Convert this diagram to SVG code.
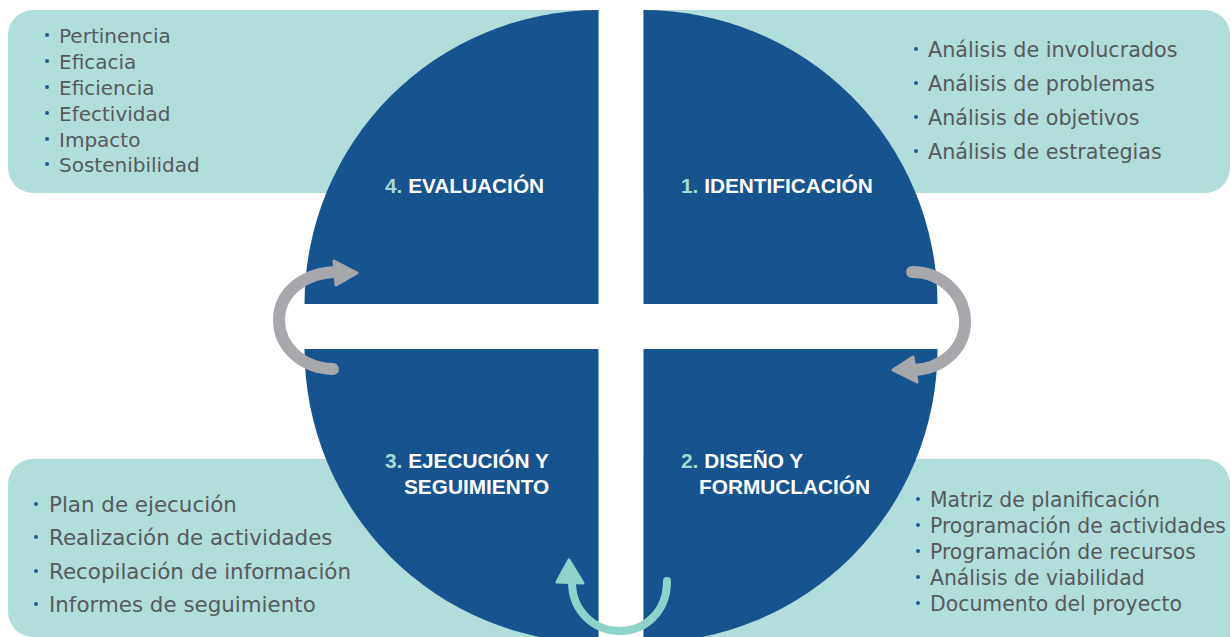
<svg xmlns="http://www.w3.org/2000/svg" width="1231" height="637" viewBox="0 0 1231 637">
<style>
.box{fill:#b1dedb}
.quad{fill:#15548f}
.item{font-family:"DejaVu Sans",sans-serif;fill:#58595b}
.dot{fill:#1c5a96}
.head{font-family:"Liberation Sans",Arial,sans-serif;font-weight:bold;font-size:20.8px;fill:#ffffff}
.num{fill:#a6dbd5}
.garc{fill:none;stroke:#a7a8ac;stroke-width:12;stroke-linecap:round}
.ghead{fill:#a7a8ac;stroke:#a7a8ac;stroke-width:3;stroke-linejoin:round}
.tarc{fill:none;stroke:#8ed3ca;stroke-width:8;stroke-linecap:round}
.thead{fill:#8ed3ca;stroke:#8ed3ca;stroke-width:3;stroke-linejoin:round}
</style>
<rect width="1231" height="637" fill="#ffffff"/>
<g id="list-evaluacion">
<path class="box" d="M598.5,10 L33,10 A25,25 0 0 0 8,35 L8,168 A25,25 0 0 0 33,193 L598.5,193 Z"/>
<g class="item" font-size="20">
<circle class="dot" cx="47" cy="35" r="2"/><text x="59" y="43">Pertinencia</text>
<circle class="dot" cx="47" cy="61" r="2"/><text x="59" y="69">Eficacia</text>
<circle class="dot" cx="47" cy="87" r="2"/><text x="59" y="95">Eficiencia</text>
<circle class="dot" cx="47" cy="113" r="2"/><text x="59" y="121">Efectividad</text>
<circle class="dot" cx="47" cy="139" r="2"/><text x="59" y="147">Impacto</text>
<circle class="dot" cx="47" cy="164" r="2"/><text x="59" y="172">Sostenibilidad</text>
</g>
</g>
<g id="list-identificacion">
<path class="box" d="M643.5,10 L1205,10 A25,25 0 0 1 1230,35 L1230,168 A25,25 0 0 1 1205,193 L643.5,193 Z"/>
<g class="item" font-size="20.7">
<circle class="dot" cx="916" cy="49" r="2"/><text x="928" y="57">Análisis de involucrados</text>
<circle class="dot" cx="916" cy="83" r="2"/><text x="928" y="91">Análisis de problemas</text>
<circle class="dot" cx="916" cy="117" r="2"/><text x="928" y="125">Análisis de objetivos</text>
<circle class="dot" cx="916" cy="151" r="2"/><text x="928" y="159">Análisis de estrategias</text>
</g>
</g>
<g id="list-ejecucion">
<path class="box" d="M598.5,459 L33,459 A25,25 0 0 0 8,484 L8,612 A25,25 0 0 0 33,637 L598.5,637 Z"/>
<g class="item" font-size="21.4">
<circle class="dot" cx="36" cy="504" r="2"/><text x="49" y="512">Plan de ejecución</text>
<circle class="dot" cx="36" cy="537" r="2"/><text x="49" y="545">Realización de actividades</text>
<circle class="dot" cx="36" cy="571" r="2"/><text x="49" y="579">Recopilación de información</text>
<circle class="dot" cx="36" cy="604" r="2"/><text x="49" y="612">Informes de seguimiento</text>
</g>
</g>
<g id="list-diseno">
<path class="box" d="M643.5,459 L1205,459 A25,25 0 0 1 1230,484 L1230,640 L643.5,640 Z"/>
<g class="item" font-size="20.4">
<circle class="dot" cx="918" cy="499" r="2"/><text x="930" y="507">Matriz de planificación</text>
<circle class="dot" cx="918" cy="525" r="2"/><text x="930" y="533">Programación de actividades</text>
<circle class="dot" cx="918" cy="551" r="2"/><text x="930" y="559">Programación de recursos</text>
<circle class="dot" cx="918" cy="577" r="2"/><text x="930" y="585">Análisis de viabilidad</text>
<circle class="dot" cx="918" cy="603" r="2"/><text x="930" y="611">Documento del proyecto</text>
</g>
</g>
<g id="q4-evaluacion">
<path class="quad" d="M598.5,304 L304.5,304 A294,294 0 0 1 598.5,10 Z"/>
<text class="head" x="385" y="193"><tspan class="num">4.</tspan> EVALUACIÓN</text>
</g>
<g id="q1-identificacion">
<path class="quad" d="M643.5,304 L643.5,10 A294,294 0 0 1 937.5,304 Z"/>
<text class="head" x="681" y="193"><tspan class="num">1.</tspan> IDENTIFICACIÓN</text>
</g>
<g id="q3-ejecucion">
<path class="quad" d="M598.5,349 L598.5,643 A294,294 0 0 1 304.5,349 Z"/>
<text class="head" x="385" y="468"><tspan class="num">3.</tspan> EJECUCIÓN Y</text>
<text class="head" x="404" y="494">SEGUIMIENTO</text>
</g>
<g id="q2-diseno">
<path class="quad" d="M643.5,349 L937.5,349 A294,294 0 0 1 643.5,643 Z"/>
<text class="head" x="681" y="468"><tspan class="num">2.</tspan> DISEÑO Y</text>
<text class="head" x="699" y="494">FORMUCLACIÓN</text>
</g>
<g id="connectors">
<path class="garc" d="M333,369 C300,368 279,345 279,320 C279,292 305,272 338,272"/>
<polygon class="ghead" points="334,261 357,273 336,285"/>
<path class="garc" d="M912,272 C942,272 965,295 965,322 C965,350 940,370 912,370"/>
<polygon class="ghead" points="913,357 893,370 917,382"/>
<path class="tarc" d="M667,581 C667,612 645,631 620,631 C593,631 572,610 572,582"/>
<polygon class="thead" points="557,582 569,560 583,583"/>
</g>
</svg>
